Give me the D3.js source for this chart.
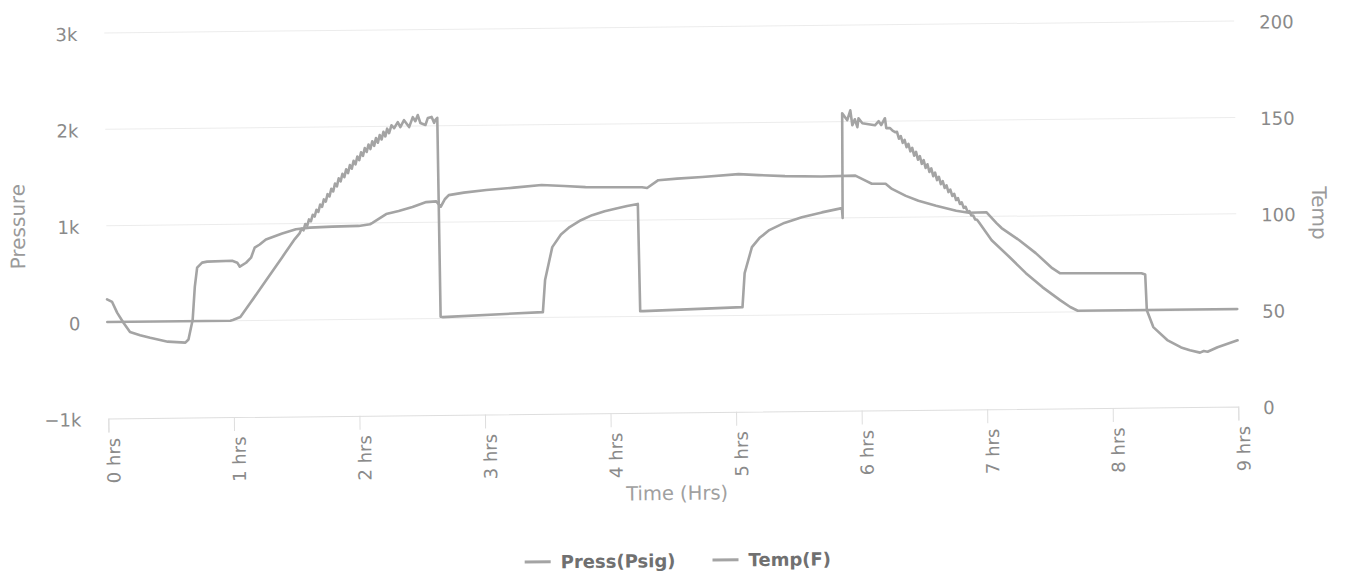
<!DOCTYPE html>
<html>
<head>
<meta charset="utf-8">
<script src="https://cdn.jsdelivr.net/npm/d3@7"></script>
<style>
  html, body { margin: 0; padding: 0; background: #fff; }
  svg { display: block; font-family: "DejaVu Sans", "Open Sans", sans-serif; }
</style>
</head>
<body>
<svg id="chart" width="1346" height="575"></svg>
<script>
// ---- data ----
const xTicks = [0, 1, 2, 3, 4, 5, 6, 7, 8, 9];
const xTickLabels = ["0 hrs","1 hrs","2 hrs","3 hrs","4 hrs","5 hrs","6 hrs","7 hrs","8 hrs","9 hrs"];
const leftTicks = [-1000, 0, 1000, 2000, 3000];
const leftTickLabels = ["−1k", "0", "1k", "2k", "3k"];
const rightTicks = [0, 50, 100, 150, 200];
const rightTickLabels = ["0", "50", "100", "150", "200"];
const seriesNames = ["Press(Psig)", "Temp(F)"];

// Press(Psig): [hours, psig]
const pressPoints = [
  [0, 0], [0.98, 0], [1.00, 7], [1.06, 37], [1.14, 181], [1.27, 418], [1.40, 657], [1.50, 840], [1.54, 902],
  [1.555, 946], [1.570, 930], [1.585, 996], [1.600, 977], [1.615, 1043], [1.630, 1023], [1.645, 1091],
  [1.660, 1071], [1.675, 1142], [1.690, 1119], [1.705, 1195], [1.720, 1172], [1.735, 1249], [1.750, 1226],
  [1.765, 1303], [1.780, 1279], [1.795, 1359], [1.810, 1330], [1.825, 1413], [1.840, 1383], [1.855, 1466],
  [1.870, 1434], [1.885, 1512], [1.900, 1478], [1.915, 1558], [1.930, 1520], [1.945, 1602], [1.960, 1564],
  [1.975, 1646], [1.990, 1608], [2.005, 1690], [2.020, 1652], [2.035, 1734], [2.050, 1696], [2.065, 1778],
  [2.080, 1736], [2.095, 1814], [2.110, 1766], [2.125, 1847], [2.140, 1799], [2.155, 1879], [2.170, 1831],
  [2.185, 1911], [2.200, 1864], [2.215, 1944], [2.230, 1896], [2.245, 1976], [2.260, 1929],
  [2.28, 2011], [2.30, 1980], [2.33, 2042], [2.35, 1990], [2.38, 2062], [2.42, 1990], [2.45, 2093], [2.47, 2050],
  [2.49, 2114], [2.51, 2031], [2.55, 2010], [2.57, 2083], [2.60, 2093], [2.62, 2031], [2.63, 2062], [2.645, 2083],
  [2.655, 20], [2.67, 15], [3.47, 56], [3.49, 388], [3.55, 729], [3.62, 860], [3.69, 935], [3.78, 1005],
  [3.87, 1056], [3.97, 1095], [4.08, 1127], [4.15, 1148], [4.235, 1168], [4.245, 55], [4.27, 55],
  [5.06, 86], [5.08, 439], [5.14, 707], [5.20, 800], [5.28, 882], [5.40, 955], [5.54, 1012], [5.70, 1060],
  [5.86, 1102], [5.865, 1000], [5.87, 2087], [5.89, 2050], [5.91, 2014], [5.935, 2116], [5.95, 1961],
  [5.97, 2023], [5.99, 1940], [6.00, 2033], [6.03, 1981], [6.08, 1969], [6.13, 1958], [6.16, 2000],
  [6.18, 1960], [6.21, 2030], [6.22, 1927], [6.25, 1927], [6.27, 1900], [6.29, 1884],
  [6.305, 1887], [6.320, 1816], [6.335, 1844], [6.350, 1773], [6.365, 1804], [6.380, 1727], [6.395, 1761],
  [6.410, 1684], [6.425, 1720], [6.440, 1639], [6.455, 1677], [6.470, 1596], [6.485, 1634], [6.500, 1553],
  [6.515, 1591], [6.530, 1510], [6.545, 1548], [6.560, 1467], [6.575, 1505], [6.590, 1424], [6.605, 1460],
  [6.620, 1383], [6.635, 1417], [6.650, 1340], [6.665, 1371], [6.680, 1300], [6.695, 1328], [6.710, 1257],
  [6.725, 1282], [6.740, 1217], [6.755, 1239], [6.770, 1174], [6.785, 1194], [6.800, 1133], [6.815, 1149],
  [6.830, 1092], [6.845, 1103], [6.860, 1052], [6.875, 1057], [6.890, 1012], [6.905, 1012], [6.920, 971],
  [6.935, 967], [6.95, 940], [7.05, 753], [7.19, 577], [7.32, 407], [7.45, 261], [7.59, 124], [7.67, 51],
  [7.73, 12], [9.00, 12]
];

// Temp(F): [hours, °F]
const tempPoints = [
  [0, 61.8], [0.04, 60.4], [0.08, 54.7], [0.13, 49.4], [0.18, 44.7], [0.26, 43.0], [0.34, 41.6], [0.48, 39.5],
  [0.62, 38.9], [0.645, 40.5], [0.68, 50.7], [0.70, 67.9], [0.72, 77.7], [0.76, 80.3], [0.80, 80.8],
  [1.00, 81.1], [1.04, 80.1], [1.06, 78.0], [1.11, 80.0], [1.15, 82.6], [1.18, 87.8], [1.22, 89.4], [1.27, 92.0],
  [1.40, 95.0], [1.51, 97.1], [1.62, 97.9], [1.80, 98.3], [2.01, 98.5], [2.10, 99.3], [2.12, 100.0],
  [2.17, 102.0], [2.23, 104.5], [2.33, 106.0], [2.44, 108.0], [2.55, 110.5], [2.63, 110.8], [2.665, 108.0],
  [2.70, 112.0], [2.73, 114.0], [2.85, 115.2], [3.03, 116.4], [3.25, 117.5], [3.47, 118.7], [3.65, 118.1],
  [3.82, 117.4], [4.05, 117.2], [4.27, 117.0], [4.31, 116.6], [4.40, 120.6], [4.55, 121.3], [4.75, 122.0],
  [5.04, 123.3], [5.20, 122.7], [5.41, 122.0], [5.70, 121.6], [5.97, 121.9], [6.05, 119.2], [6.10, 117.6],
  [6.21, 117.5], [6.26, 114.8], [6.37, 111.1], [6.47, 108.5], [6.61, 105.8], [6.77, 103.1], [6.87, 102.0],
  [7.01, 102.2], [7.09, 96.5], [7.13, 93.9], [7.27, 87.5], [7.40, 80.7], [7.53, 72.8], [7.59, 70.2],
  [8.24, 69.7], [8.27, 69.0], [8.28, 50.5], [8.33, 41.7], [8.44, 34.9], [8.55, 31.0], [8.62, 29.5],
  [8.70, 28.2], [8.73, 29.0], [8.76, 28.6], [8.84, 30.9], [9.00, 34.4]
];

// ---- layout ----
const plotLeft = 107, plotRight = 1237, plotTop = 27, plotBottom = 412.5;
const lineColor = "#a4a4a4";
const font = "'DejaVu Sans', 'Open Sans', sans-serif";

const svg = d3.select("#chart");
const root = svg.append("g").attr("transform", "rotate(-0.6, 672, 290)");

const x = d3.scaleLinear().domain([0, 9]).range([plotLeft, plotRight]);
const yL = d3.scaleLinear().domain([-1000, 3000]).range([plotBottom, plotTop]);
const yR = d3.scaleLinear().domain([0, 200]).range([plotBottom, plotTop]);

// grid lines
root.append("g").selectAll("line").data(leftTicks.slice(1)).join("line")
  .attr("x1", plotLeft).attr("x2", plotRight)
  .attr("y1", d => yL(d)).attr("y2", d => yL(d))
  .attr("stroke", "#ececec").attr("stroke-width", 1);

// x axis
const xAxis = d3.axisBottom(x).tickValues(xTicks).tickSize(14)
  .tickFormat((d, i) => xTickLabels[i]);
const gx = root.append("g").attr("transform", `translate(0,${plotBottom})`).call(xAxis);
gx.select(".domain").attr("stroke", "#dedede").attr("stroke-width", 1);
gx.selectAll(".tick line").attr("stroke", "#dedede");
gx.selectAll(".tick text")
  .attr("fill", "#8a8a8a").attr("font-size", 18).attr("font-family", font)
  .attr("text-anchor", "end")
  .attr("transform", "rotate(-90)")
  .attr("x", -19.5).attr("y", 11).attr("dy", 0);

// left axis
const yAxisL = d3.axisLeft(yL).tickValues(leftTicks).tickSize(0)
  .tickFormat((d, i) => leftTickLabels[i]);
const gl = root.append("g").attr("transform", `translate(${plotLeft},0)`).call(yAxisL);
gl.select(".domain").remove();
gl.selectAll(".tick text").attr("fill", "#8a8a8a").attr("font-size", 18).attr("font-family", font)
  .attr("x", -27).attr("dy", "0.4em");

// right axis
const yAxisR = d3.axisRight(yR).tickValues(rightTicks).tickSize(0)
  .tickFormat((d, i) => rightTickLabels[i]);
const gr = root.append("g").attr("transform", `translate(${plotRight},0)`).call(yAxisR);
gr.select(".domain").remove();
gr.selectAll(".tick text").attr("fill", "#8a8a8a").attr("font-size", 18).attr("font-family", font)
  .attr("x", 25).attr("dy", "0.4em");

// axis titles
root.append("text").text("Pressure")
  .attr("transform", `translate(25.5,${(plotTop + plotBottom) / 2}) rotate(-90)`)
  .attr("text-anchor", "middle").attr("fill", "#9a9a9a").attr("font-size", 20).attr("font-family", font);
root.append("text").text("Temp")
  .attr("transform", `translate(1313,${(plotTop + plotBottom) / 2}) rotate(90)`)
  .attr("text-anchor", "middle").attr("fill", "#9a9a9a").attr("font-size", 20).attr("font-family", font);
root.append("text").text("Time (Hrs)")
  .attr("x", 675).attr("y", 500)
  .attr("text-anchor", "middle").attr("fill", "#a0a0a0").attr("font-size", 19.5).attr("font-family", font);

// series
const linePress = d3.line().x(d => x(d[0])).y(d => yL(d[1]));
const lineTemp = d3.line().x(d => x(d[0])).y(d => yR(d[1]));

root.append("path").datum(tempPoints).attr("d", lineTemp)
  .attr("fill", "none").attr("stroke", lineColor).attr("stroke-width", 2.6)
  .attr("stroke-linejoin", "round").attr("stroke-linecap", "round");
root.append("path").datum(pressPoints).attr("d", linePress)
  .attr("fill", "none").attr("stroke", lineColor).attr("stroke-width", 2.6)
  .attr("stroke-linejoin", "round").attr("stroke-linecap", "round");

// legend
const legend = root.append("g");
const legY = 567;
let cx = 0;
seriesNames.forEach((name) => {
  const g = legend.append("g").attr("transform", `translate(${cx},${legY})`);
  g.append("line").attr("x1", 0).attr("x2", 26).attr("y1", -6.5).attr("y2", -6.5)
    .attr("stroke", lineColor).attr("stroke-width", 3);
  const t = g.append("text").text(name).attr("x", 36).attr("y", 0)
    .attr("font-size", 18).attr("font-weight", "bold").attr("fill", "#707070").attr("font-family", font);
  cx += 36 + t.node().getComputedTextLength() + 37;
});
const totalW = cx - 37;
legend.attr("transform", `translate(${675 - totalW / 2},0)`);
</script>
</body>
</html>
